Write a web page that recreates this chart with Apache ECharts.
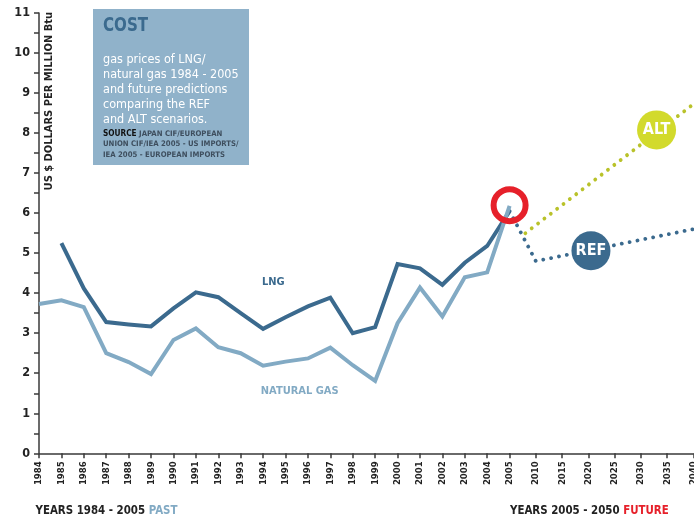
<!DOCTYPE html>
<html>
<head>
<meta charset="utf-8">
<script src="https://cdn.jsdelivr.net/npm/echarts@6/dist/echarts.min.js"></script>
<style>
  html, body { margin: 0; padding: 0; background: #fff; }
  #chart { width: 694px; height: 519px; }
</style>
</head>
<body>
<div id="chart"></div>
<script>
// Historic years (one category per year)
const pastYears = ['1984','1985','1986','1987','1988','1989','1990','1991','1992','1993','1994',
  '1995','1996','1997','1998','1999','2000','2001','2002','2003','2004','2005'];
// US $ per million Btu
const lngPrices = [null, 5.25, 4.12, 3.28, 3.22, 3.17, 3.62, 4.02, 3.9, 3.5, 3.11,
  3.4, 3.67, 3.89, 3.0, 3.15, 4.73, 4.62, 4.21, 4.76, 5.18, 6.05];
const naturalGasPrices = [3.73, 3.82, 3.65, 2.5, 2.28, 1.98, 2.83, 3.12, 2.65, 2.5, 2.19,
  2.29, 2.37, 2.64, 2.2, 1.81, 3.25, 4.14, 3.42, 4.4, 4.52, 6.18];

// Scenario projections [year, price]
const refScenario = [[2005, 6.05], [2010, 4.8], [2040, 5.6]];
const altScenario = [[2008, 5.5], [2040, 8.72]];
const refMarker = [[2020.5, 5.06]];
const altMarker = [[2033, 8.08]];
const highlight2005 = [['2005', 6.2]];

const yTicks = { min: 0, max: 11, step: 0.5 };
const futureTicks = { min: 2005, max: 2040, step: 5 };

const FONT = 'DejaVu Sans Condensed';
const DARK = '#3b6a8e';
const LIGHT = '#82aac4';
const ALTC = '#b9c22a';
const RED = '#e6202a';
const AXIS = '#3a3a3a';

const chart = echarts.init(document.getElementById('chart'), null, { renderer: 'canvas' });

const gridTop = 13, gridHeight = 440.3;
const pastLeft = 39, pastWidth = 470.6;
const futureWidth = 183.7;

const commonY = {
  type: 'value', min: yTicks.min, max: yTicks.max, interval: yTicks.step,
  splitLine: { show: false }
};

const xLabel = { rotate: 90, fontFamily: FONT, fontWeight: 'bold', fontSize: 9.5, color: '#222', margin: 8 };

chart.setOption({
  animation: false,
  backgroundColor: '#fff',
  grid: [
    { left: pastLeft, top: gridTop, width: pastWidth, height: gridHeight, outerBoundsMode: 'none', containLabel: false },
    { left: pastLeft + pastWidth, top: gridTop, width: futureWidth, height: gridHeight, outerBoundsMode: 'none', containLabel: false }
  ],
  xAxis: [
    {
      type: 'category', gridIndex: 0, data: pastYears, boundaryGap: false,
      axisLine: { lineStyle: { color: AXIS, width: 1.5 } },
      axisTick: { length: 5, lineStyle: { color: AXIS, width: 1.5 } },
      axisLabel: xLabel
    },
    {
      type: 'value', gridIndex: 1, min: futureTicks.min, max: futureTicks.max, interval: futureTicks.step,
      splitLine: { show: false },
      axisLine: { lineStyle: { color: AXIS, width: 1.5 } },
      axisTick: { length: 5, lineStyle: { color: AXIS, width: 1.5 } },
      axisLabel: Object.assign({ showMinLabel: false, showMaxLabel: true, formatter: v => String(v) }, xLabel)
    }
  ],
  yAxis: [
    Object.assign({}, commonY, {
      gridIndex: 0,
      axisLine: { show: true, lineStyle: { color: AXIS, width: 1.5 } },
      axisTick: { show: true, length: 5, lineStyle: { color: AXIS, width: 1.5 } },
      axisLabel: {
        fontFamily: FONT, fontWeight: 'bold', fontSize: 12.5, color: '#222', margin: 9,
        formatter: v => (Number.isInteger(v) ? String(v) : '')
      }
    }),
    Object.assign({}, commonY, {
      gridIndex: 1,
      axisLine: { show: false }, axisTick: { show: false }, axisLabel: { show: false }
    })
  ],
  series: [
    {
      name: 'LNG', type: 'line', xAxisIndex: 0, yAxisIndex: 0, data: lngPrices,
      symbol: 'none', connectNulls: false,
      lineStyle: { color: DARK, width: 4, join: 'miter' }, z: 3
    },
    {
      name: 'NATURAL GAS', type: 'line', xAxisIndex: 0, yAxisIndex: 0, data: naturalGasPrices,
      symbol: 'none',
      lineStyle: { color: LIGHT, width: 4, join: 'miter' }, z: 4
    },
    {
      name: 'REF', type: 'line', xAxisIndex: 1, yAxisIndex: 1, data: refScenario,
      symbol: 'none', clip: false,
      lineStyle: { color: DARK, width: 3.8, type: [0.01, 8], cap: 'round' }, z: 2
    },
    {
      name: 'ALT', type: 'line', xAxisIndex: 1, yAxisIndex: 1, data: altScenario,
      symbol: 'none', clip: false,
      lineStyle: { color: ALTC, width: 3.8, type: [0.01, 8], cap: 'round' }, z: 2
    },
    {
      type: 'scatter', xAxisIndex: 1, yAxisIndex: 1, data: refMarker,
      symbol: 'circle', symbolSize: 39, itemStyle: { color: DARK, opacity: 1 },
      label: { show: true, position: 'inside', formatter: 'REF', color: '#fff',
        fontFamily: FONT, fontWeight: 'bold', fontSize: 16 }, z: 5
    },
    {
      type: 'scatter', xAxisIndex: 1, yAxisIndex: 1, data: altMarker,
      symbol: 'circle', symbolSize: 39, itemStyle: { color: '#d2da2c', opacity: 1 },
      label: { show: true, position: 'inside', formatter: 'ALT', color: '#fff',
        fontFamily: FONT, fontWeight: 'bold', fontSize: 16 }, z: 5
    },
    {
      type: 'scatter', xAxisIndex: 0, yAxisIndex: 0, data: highlight2005,
      symbol: 'circle', symbolSize: 32,
      itemStyle: { color: 'rgba(0,0,0,0)', borderColor: RED, borderWidth: 6, opacity: 1 }, z: 6
    }
  ],
  graphic: [
    // vertical axis title
    {
      type: 'text', x: 49.5, y: 12, rotation: Math.PI / 2,
      style: { text: 'US $ DOLLARS PER MILLION Btu', fill: '#222', font: 'bold 11px "' + FONT + '"',
        align: 'right', verticalAlign: 'middle' }
    },
    // info panel
    { type: 'rect', shape: { x: 93, y: 9, width: 156, height: 156 }, style: { fill: '#90b2ca' }, z: 10 },
    {
      type: 'text', x: 103, y: 25.5, z: 11, scaleX: 0.86,
      style: { text: 'COST', fill: DARK, font: 'bold 19.5px "' + FONT + '"', verticalAlign: 'middle' }
    },
    {
      type: 'text', x: 103, y: 52, z: 11,
      style: {
        text: 'gas prices of LNG/\nnatural gas 1984 - 2005\nand future predictions\ncomparing the REF\nand ALT scenarios.',
        fill: '#fff', font: '12.5px "' + FONT + '"', lineHeight: 15, verticalAlign: 'top'
      }
    },
    {
      type: 'text', x: 103, y: 128.5, z: 11,
      style: {
        text: '{b|SOURCE} JAPAN CIF/EUROPEAN\nUNION CIF/IEA 2005 - US IMPORTS/\nIEA 2005 - EUROPEAN IMPORTS',
        fill: '#3e4e5e', font: 'bold 7.7px "' + FONT + '"', lineHeight: 10.5, verticalAlign: 'top',
        rich: { b: { fill: '#111', font: 'bold 8.2px "' + FONT + '"' } }
      }
    },
    // series labels
    {
      type: 'text', x: 273.3, y: 282, z: 11,
      style: { text: 'LNG', fill: DARK, font: 'bold 11px "' + FONT + '"', align: 'center', verticalAlign: 'middle' }
    },
    {
      type: 'text', x: 299.7, y: 391.5, z: 11,
      style: { text: 'NATURAL GAS', fill: LIGHT, font: 'bold 11px "' + FONT + '"', align: 'center', verticalAlign: 'middle' }
    },
    // period captions
    {
      type: 'text', x: 35.5, y: 511, z: 11,
      style: {
        text: '{a|YEARS 1984 - 2005 }{p|PAST}', verticalAlign: 'middle',
        rich: {
          a: { fill: '#222', font: 'bold 11.4px "' + FONT + '"' },
          p: { fill: LIGHT, font: 'bold 11.4px "' + FONT + '"' }
        }
      }
    },
    {
      type: 'text', x: 510, y: 511, z: 11,
      style: {
        text: '{a|YEARS 2005 - 2050 }{p|FUTURE}', verticalAlign: 'middle',
        rich: {
          a: { fill: '#222', font: 'bold 11.4px "' + FONT + '"' },
          p: { fill: RED, font: 'bold 11.4px "' + FONT + '"' }
        }
      }
    }
  ]
});
</script>
</body>
</html>
